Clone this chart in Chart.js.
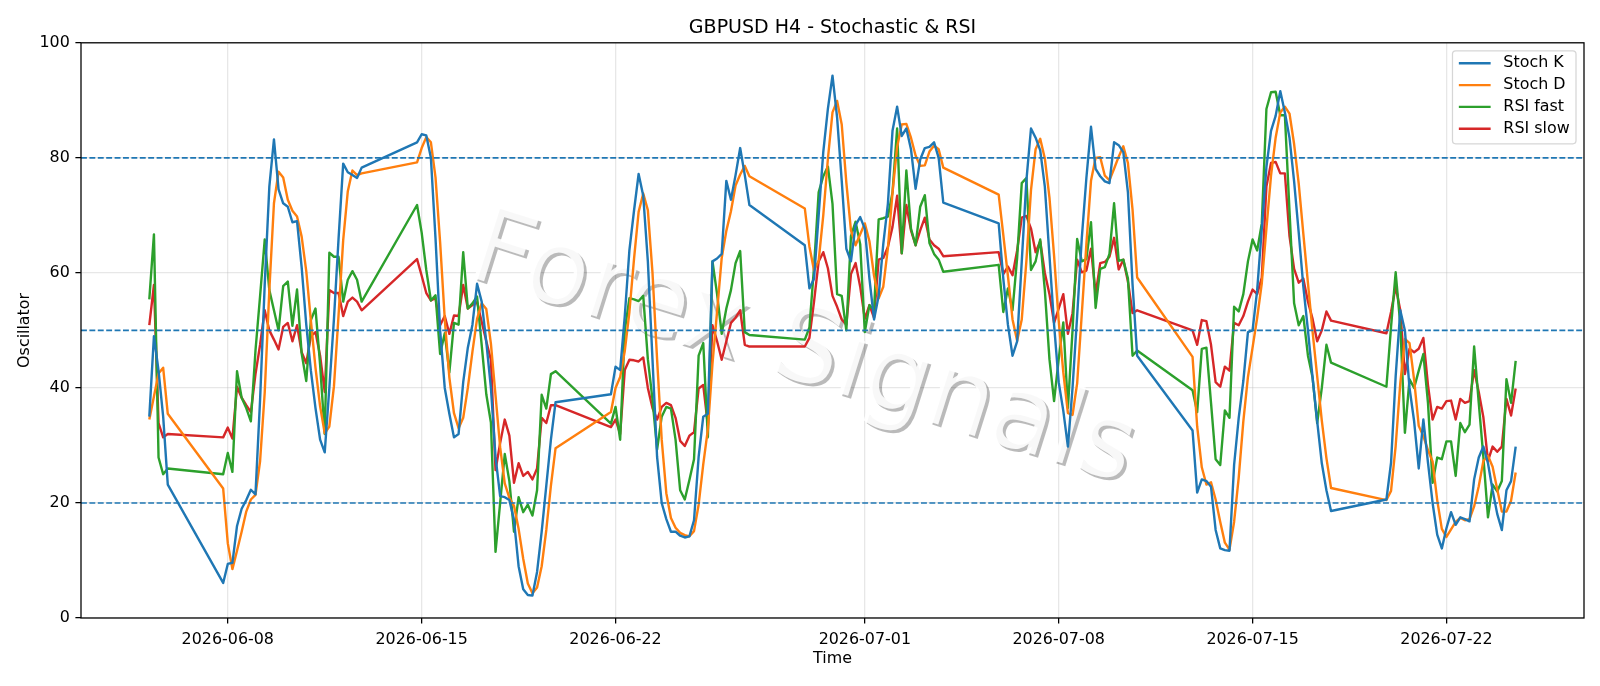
<!DOCTYPE html>
<html>
<head>
<meta charset="utf-8">
<script src="https://cdn.jsdelivr.net/npm/chart.js@4.4.1/dist/chart.umd.min.js"></script>
<style>
	html, body { margin: 0; padding: 0; background: #fff; }
</style>
</head>
<body>
<canvas id="chart" width="1600" height="686"></canvas>
<script>
// H4 sessions: first bar (UTC) and number of 4h bars in it
const sessions = [
	['2026-06-05T04:00Z', 5],
	['2026-06-07T20:00Z', 31],
	['2026-06-14T20:00Z', 31],
	['2026-06-21T20:00Z', 31],
	['2026-06-28T20:00Z', 31],
	['2026-07-05T20:00Z', 31],
	['2026-07-12T20:00Z', 31],
	['2026-07-19T20:00Z', 29]
]

const tickLabels = ['2026-06-08', '2026-06-15', '2026-06-22', '2026-07-01', '2026-07-08', '2026-07-15', '2026-07-22']
const levels = [20, 50, 80]

const stochK = [
	35, 49, 43, 35, 23.2,
	6.1, 9.4, 9.6, 16, 19, 20.5, 22.3, 21.5, 38, 58, 75, 83.2, 74.5, 72.1, 71.5, 68.8, 69, 61, 51, 43, 36.5, 31, 28.8, 40, 52, 66, 79, 77.5, 77, 76.5, 78.3,
	82.7, 84.1, 83.9, 80, 66, 50, 40, 35.5, 31.4, 32, 41, 47, 51, 58.1, 55, 48, 40, 28, 21.2, 21, 20.5, 17, 9, 5, 4, 3.9, 8, 15, 23, 31, 37.5,
	38.9, 43.7, 43.1, 52.5, 63.9, 70.8, 77.2, 73.4, 62, 45, 28, 20, 17.2, 15, 15, 14.3, 14, 14.2, 17, 28, 35, 35.5, 62, 62.5, 63.3, 76, 72.7, 77, 81.7, 77, 71.8,
	64.8, 57.3, 59, 70, 81, 88.5, 94.3, 87, 76, 64.2, 62, 68.3, 69.7, 67.7, 59, 51.9, 56, 65, 72, 84.7, 88.9, 83.8, 85.1, 81.5, 74.6, 79.7, 81.7, 81.9, 82.7, 80, 72.2,
	68.6, 59, 51, 45.6, 48.1, 62, 76, 85.1, 83.5, 81.3, 75, 63, 51, 41, 36, 29.8, 40, 52.5, 66, 76.5, 85.4, 78.1, 76.8, 75.9, 75.6, 82.7, 82.2, 81, 74, 58, 45.6,
	32.6, 21.8, 24.1, 23.8, 22.8, 15.3, 12.1, 11.8, 11.7, 26.6, 34.8, 41.2, 49.7, 50, 57, 67.7, 78.4, 84.7, 87.3, 91.6, 87.9, 83.5, 75.9, 67, 57.6, 50, 41.8, 34.2, 26.9, 22.2, 18.6,
	20.6, 27, 42, 53.5, 50, 40, 34.2, 26, 34.5, 27, 20, 14.5, 12.1, 15.6, 18.4, 16.2, 17.5, 17.2, 16.8, 24.1, 27.9, 29.8, 26.9, 22.2, 18.1, 15.3, 22.2, 23.8, 29.8
]

const stochD = [
	34.5, 38.5, 42.5, 43.5, 35.5,
	22.5, 13, 8.5, 11.7, 15, 18.5, 20.6, 21.4, 27.3, 39.2, 57, 72.1, 77.6, 76.6, 72.7, 70.8, 69.8, 66.3, 60.3, 51.7, 43.5, 36.8, 32.1, 33.3, 40.3, 52.7, 65.7, 74.2, 77.8, 77, 77.3,
	79.2, 81.7, 83.6, 82.7, 76.6, 65.3, 52, 41.8, 35.6, 33, 34.8, 40, 46.3, 52, 54.7, 53.7, 47.7, 38.7, 29.7, 23.4, 20.9, 19.5, 15.5, 10.3, 6, 4.3, 5.3, 9, 15.3, 23, 29.5,
	35.8, 40, 41.9, 46.4, 53.2, 62.4, 70.6, 73.8, 70.9, 60.1, 45, 31, 21.7, 17.4, 15.7, 14.8, 14.4, 14.2, 15.1, 19.7, 26.7, 32.8, 44.2, 53.3, 62.6, 67.3, 70.7, 75.2, 77.1, 78.6, 76.8,
	71.2, 64.6, 60.4, 62.1, 70, 79.8, 87.9, 89.9, 85.8, 75.7, 67.4, 64.8, 66.7, 68.6, 65.5, 59.5, 55.6, 57.6, 64.3, 73.9, 81.9, 85.8, 85.9, 83.5, 80.4, 78.6, 78.7, 81.1, 82.1, 81.5, 78.3,
	73.6, 66.6, 59.5, 51.9, 48.2, 51.9, 62, 74.4, 81.5, 83.3, 79.9, 73.1, 63, 51.7, 42.7, 35.6, 35.3, 40.8, 52.8, 65, 76, 80, 80.1, 76.9, 76.1, 78.1, 80.2, 82, 79.1, 71, 59.2,
	45.4, 33.3, 26.2, 23.2, 23.6, 20.6, 16.7, 13.1, 11.9, 16.7, 24.4, 34.2, 41.9, 47, 52.2, 58.2, 67.7, 76.9, 83.5, 87.9, 88.9, 87.7, 82.4, 75.5, 66.8, 58.2, 49.8, 42, 34.3, 27.8, 22.6,
	20.5, 22.1, 29.9, 40.8, 48.5, 47.8, 41.4, 33.4, 31.6, 29.2, 27.2, 20.5, 15.5, 14.1, 15.4, 16.7, 17.4, 17, 17.2, 19.4, 22.9, 27.3, 28.2, 26.3, 22.4, 18.5, 18.5, 20.4, 25.3
]

const rsiFast = [
	55.4, 66.7, 27.9, 25, 26,
	25, 28.7, 25.4, 42.9, 38.3, 36.5, 34.2, 46.5, 56, 65.8, 57, 53.5, 50, 57.7, 58.5, 50.8, 57.1, 46, 41.2, 51.8, 53.8, 44, 32, 63.5, 62.8, 62.8, 55, 58.8, 60.3, 58.8, 55,
	71.8, 67, 60.5, 55.2, 56.1, 45.9, 49.5, 42.7, 51.3, 51, 63.6, 53.8, 54.7, 55.9, 47.5, 38.9, 34, 11.5, 20, 28.5, 23.8, 15, 21, 18.4, 19.7, 17.8, 22.2, 38.8, 36.4, 42.4, 42.9,
	33.8, 36.7, 31, 50, 55.6, 55.4, 55.1, 56, 45, 38, 29.3, 35, 36.7, 36.4, 31, 22.2, 20.6, 24, 27.6, 45.6, 47.8, 31.4, 62, 56.3, 49.4, 53.8, 57, 61.7, 63.8, 49.7, 49.2,
	48.4, 50.5, 61, 74, 76.8, 78.5, 72, 56.3, 56, 50, 66.4, 68.9, 65, 49.7, 54.4, 53.5, 69.3, 69.5, 69.8, 74, 85.1, 63.4, 77.8, 67.7, 64.8, 71.5, 73.5, 65.2, 63.3, 62.3, 60.2,
	61.4, 53.2, 57.3, 53.5, 62.6, 75.6, 76.5, 60.5, 62, 65.8, 57, 45, 37.7, 45, 51.4, 36.5, 50, 65.9, 62, 62.4, 68.8, 53.9, 60.7, 61, 63.3, 72.1, 62.1, 62.3, 59, 45.6, 46.5,
	39.6, 35.8, 46.8, 47, 37.4, 27.6, 26.6, 36.1, 34.8, 54.1, 53.3, 56.3, 62, 65.8, 63.9, 68.6, 88.5, 91.4, 91.5, 87.4, 87.4, 70.8, 54.7, 50.9, 52.5, 45.6, 41.8, 33.9, 40, 47.5, 44.4,
	40.2, 50.6, 60.1, 51, 32.2, 41.5, 40, 43, 45.9, 37.4, 23.5, 27.9, 27.6, 30.7, 30.7, 24.7, 33.9, 32.3, 33.6, 47.2, 37.4, 28, 17.5, 23.2, 22, 23.8, 41.5, 37.4, 44.7
]

const rsiSlow = [
	50.9, 57.9, 33.9, 31.4, 32,
	31.4, 33.1, 31.2, 40.2, 38.3, 37, 35.8, 42.4, 47.5, 53.5, 50, 48.4, 46.7, 50.6, 51.3, 48.1, 50.9, 46.2, 44.3, 49, 49.7, 45.6, 39.3, 57, 56.5, 56.5, 52.5, 55, 55.7, 55, 53.5,
	62.4, 59.5, 56.5, 55.2, 55.6, 50.9, 52.5, 49.4, 52.6, 52.5, 57.9, 53.8, 54.4, 54.9, 51.5, 48.1, 44.9, 25.7, 30.4, 34.5, 31.7, 23.5, 26.9, 24.7, 25.4, 24.1, 26, 34.8, 33.9, 37, 37,
	33.2, 34.5, 32, 43.1, 44.9, 44.8, 44.6, 45.3, 40, 36.5, 34.5, 36.7, 37.4, 37, 34.8, 30.8, 29.9, 31.7, 32.3, 39.9, 40.5, 33.5, 50.9, 48.1, 44.9, 48.1, 51.3, 52.2, 53.5, 47.5, 47.2,
	47.2, 48.7, 55, 62, 63.6, 60.8, 56, 54.1, 51.9, 51, 59.8, 61.7, 57.6, 52, 54.4, 52.2, 62.3, 62.6, 64.5, 68, 73.4, 63.4, 71.8, 67.4, 64.8, 67.4, 69.6, 65.8, 64.8, 64.2, 62.9,
	63.6, 59.8, 61.1, 59.6, 63.9, 69.6, 69.9, 67.7, 63.6, 65.5, 60, 56.3, 51.3, 53.8, 56.3, 49.4, 53, 62.3, 60.1, 60.4, 64.2, 56.3, 61.7, 61.9, 62.8, 66.1, 60.6, 62.3, 58.5, 53, 53.5,
	50, 47.5, 51.8, 51.6, 47.5, 41, 40.2, 43.7, 43, 51.3, 50.9, 52.5, 55, 57.1, 56.3, 59.2, 75, 79.1, 79.3, 77.3, 77.3, 66.4, 60.7, 58.3, 59, 55, 52, 48.1, 50, 53.3, 51.7,
	49.5, 53.2, 57.6, 53.5, 42.4, 46.8, 46.2, 46.8, 48.7, 40.5, 34.5, 36.7, 36.4, 37.7, 37.8, 34.5, 38.1, 37.4, 37.7, 43.1, 39.3, 34.9, 27.3, 29.8, 28.9, 29.8, 38.1, 35.2, 39.9
]

const HOUR = 3600 * 1000
const times = []
sessions.forEach(([start, bars]) => {
	const t0 = Date.parse(start)
	for (let i = 0; i < bars; i++) times.push(t0 + i * 4 * HOUR)
})
const span = times[times.length - 1] - times[0]
const xMin = times[0] - span * 0.05
const xMax = times[times.length - 1] + span * 0.05
const tickValues = tickLabels.map(d => Date.parse(d + 'T00:00Z'))

const FONT = '"DejaVu Sans", sans-serif'
const FS = 15.9

const series = [
	{ label: 'Stoch K', values: stochK, color: '#1f77b4' },
	{ label: 'Stoch D', values: stochD, color: '#ff7f0e' },
	{ label: 'RSI fast', values: rsiFast, color: '#2ca02c' },
	{ label: 'RSI slow', values: rsiSlow, color: '#d62728' }
]

// faint watermark, under the lines
const watermark = {
	id: 'watermark',
	beforeDatasetsDraw(chart) {
		const { ctx } = chart
		ctx.save()
		ctx.translate(802, 353)
		ctx.rotate(17.5 * Math.PI / 180)
		ctx.font = '104px ' + FONT
		ctx.textAlign = 'center'
		ctx.textBaseline = 'middle'
		ctx.shadowColor = 'rgba(0,0,0,0.3)'
		ctx.shadowOffsetX = 3
		ctx.shadowOffsetY = 3
		ctx.fillStyle = 'rgba(255,255,255,0.9)'
		ctx.fillText('Forex Signals', 0, 0)
		ctx.restore()
	}
}

// dashed levels + axes frame, drawn over the lines like matplotlib does
const overlay = {
	id: 'overlay',
	afterDatasetsDraw(chart) {
		const { ctx, chartArea: a, scales: { y } } = chart
		ctx.save()
		ctx.strokeStyle = '#1f77b4'
		ctx.lineWidth = 1.6
		ctx.setLineDash([5.9, 2.5])
		levels.forEach(v => {
			const py = y.getPixelForValue(v)
			ctx.beginPath()
			ctx.moveTo(a.left, py)
			ctx.lineTo(a.right, py)
			ctx.stroke()
		})
		ctx.setLineDash([])
		ctx.strokeStyle = '#000'
		ctx.lineWidth = 1.27
		ctx.strokeRect(a.left, a.top, a.right - a.left, a.bottom - a.top)
		ctx.restore()
	}
}

const legendBox = {
	id: 'legendBox',
	afterDraw(chart) {
		const { ctx, chartArea: a } = chart
		ctx.save()
		ctx.font = FS + 'px ' + FONT
		const labels = chart.data.datasets.map(d => d.label)
		const textW = Math.max(...labels.map(l => ctx.measureText(l).width))
		const pad = 0.4 * FS
		const handle = 2 * FS
		const gap = 0.8 * FS
		const rowH = 21.8
		const w = pad + handle + gap + textW + pad
		const h = 93
		const x0 = a.right - 8 - w
		const y0 = a.top + 8
		ctx.beginPath()
		ctx.roundRect(x0, y0, w, h, 3.2)
		ctx.fillStyle = 'rgba(255,255,255,0.8)'
		ctx.fill()
		ctx.strokeStyle = 'rgba(204,204,204,0.8)'
		ctx.lineWidth = 1.27
		ctx.stroke()
		chart.data.datasets.forEach((d, i) => {
			const cy = y0 + 12.5 + i * rowH
			ctx.strokeStyle = d.borderColor
			ctx.lineWidth = 2.4
			ctx.beginPath()
			ctx.moveTo(x0 + pad, cy)
			ctx.lineTo(x0 + pad + handle, cy)
			ctx.stroke()
			ctx.fillStyle = '#000'
			ctx.textBaseline = 'middle'
			ctx.fillText(d.label, x0 + pad + handle + gap, cy)
		})
		ctx.restore()
	}
}

const gridStyle = {
	color: 'rgba(176,176,176,0.3)',
	lineWidth: 1.27,
	tickColor: '#000',
	tickLength: 5.6,
	tickWidth: 1.27
}

new Chart(document.getElementById('chart'), {
	type: 'line',
	data: {
		datasets: series.map(s => ({
			label: s.label,
			data: times.map((t, i) => ({ x: t, y: s.values[i] })),
			borderColor: s.color,
			backgroundColor: s.color,
			borderWidth: 2.4,
			borderJoinStyle: 'round',
			pointRadius: 0,
			tension: 0,
			fill: false
		}))
	},
	options: {
		responsive: false,
		animation: false,
		devicePixelRatio: 1,
		font: { family: FONT },
		layout: { padding: { left: 0, right: 16, top: 0, bottom: 0 } },
		plugins: {
			legend: { display: false },
			tooltip: { enabled: false },
			title: {
				display: true,
				fullSize: false,
				text: 'GBPUSD H4 - Stochastic & RSI',
				color: '#000',
				font: { family: FONT, size: 19, weight: 'normal' },
				padding: { top: 17, bottom: 3 }
			}
		},
		scales: {
			x: {
				type: 'linear',
				min: xMin,
				max: xMax,
				afterBuildTicks: s => { s.ticks = tickValues.map(v => ({ value: v })) },
				afterFit: s => { s.height = 68 },
				ticks: {
					autoSkip: false,
					maxRotation: 0,
					padding: 6.4,
					color: '#000',
					font: { family: FONT, size: FS },
					callback: (v, i) => tickLabels[i]
				},
				grid: gridStyle,
				border: { display: false },
				title: {
					display: true,
					text: 'Time',
					color: '#000',
					font: { family: FONT, size: FS },
					padding: { top: 0, bottom: 17.5 }
				}
			},
			y: {
				min: 0,
				max: 100,
				afterFit: s => { s.width = 81 },
				ticks: {
					stepSize: 20,
					padding: 5.6,
					color: '#000',
					font: { family: FONT, size: FS }
				},
				grid: gridStyle,
				border: { display: false },
				title: {
					display: true,
					text: 'Oscillator',
					color: '#000',
					font: { family: FONT, size: FS },
					padding: { top: 15, bottom: 0 }
				}
			}
		}
	},
	plugins: [watermark, overlay, legendBox]
})
</script>
</body>
</html>
